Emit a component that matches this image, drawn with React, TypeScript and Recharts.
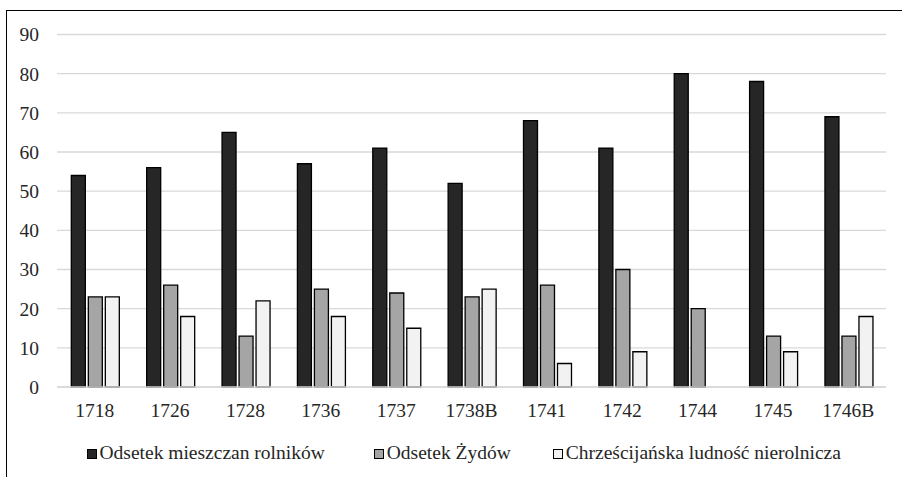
import { Bar, BarChart, CartesianGrid, Legend, XAxis, YAxis } from 'recharts';

const YEARS = ['1718', '1726', '1728', '1736', '1737', '1738B', '1741', '1742', '1744', '1745', '1746B'];
const ROLNICY = [54, 56, 65, 57, 61, 52, 68, 61, 80, 78, 69];
const ZYDZI = [23, 26, 13, 25, 24, 23, 26, 30, 20, 13, 13];
const NIEROLNICZA: (number | null)[] = [23, 18, 22, 18, 15, 25, 6, 9, null, 9, 18];
const Y_TICKS = [0, 10, 20, 30, 40, 50, 60, 70, 80, 90];

const SERIES = [
  { key: 'rolnicy', label: 'Odsetek mieszczan rolników', color: '#262626' },
  { key: 'zydzi', label: 'Odsetek Żydów', color: '#a5a5a5' },
  { key: 'nierolnicza', label: 'Chrześcijańska ludność nierolnicza', color: '#f2f2f2' },
];

const data = YEARS.map((year, i) => ({
  year,
  rolnicy: ROLNICY[i],
  zydzi: ZYDZI[i],
  nierolnicza: NIEROLNICZA[i],
}));

const FONT = 'Liberation Serif';
const LEGEND_GAPS = [49, 42, 0];

function LegendContent() {
  return (
    <div style={{ height: 50, display: 'flex', alignItems: 'center', paddingLeft: 86.5, paddingTop: 2, boxSizing: 'border-box' }}>
      {SERIES.map((s, i) => (
        <div key={s.key} style={{ display: 'flex', alignItems: 'center', marginRight: LEGEND_GAPS[i], fontFamily: FONT, fontSize: 19.5, color: '#262626', whiteSpace: 'nowrap' }}>
          <span style={{ width: 8, height: 8, background: s.color, border: '1.5px solid #000', marginRight: 3, marginTop: 2 }} />
          {s.label}
        </div>
      ))}
    </div>
  );
}

export default function App() {
  return (
    <div style={{ position: 'absolute', left: 0, top: 0, width: 902, height: 477, overflow: 'hidden', background: '#fff', fontFamily: FONT }}>
      <div style={{ position: 'absolute', left: 6, top: 10, width: 920, height: 500, borderLeft: '1.5px solid #000', borderTop: '1.5px solid #000' }} />
      <div style={{ position: 'absolute', left: 0, top: 0 }}>
        <BarChart
          width={902}
          height={477}
          data={data}
          margin={{ top: 34.5, right: 16, left: 0, bottom: 0 }}
          barCategoryGap="19%"
          barGap={3}
        >
          <CartesianGrid vertical={false} stroke="#d9d9d9" strokeWidth={1.3} />
          <XAxis
            dataKey="year"
            height={40}
            tickLine={false}
            axisLine={{ stroke: '#d9d9d9', strokeWidth: 1.3 }}
            tickSize={0}
            tickMargin={16}
            tick={{ fontFamily: FONT, fontSize: 19.5, fill: '#262626' }}
          />
          <YAxis
            width={57}
            domain={[0, 90]}
            ticks={Y_TICKS}
            axisLine={false}
            tickLine={false}
            tickSize={0}
            tickMargin={18}
            tick={{ fontFamily: FONT, fontSize: 19.5, fill: '#262626' }}
          />
          <Legend verticalAlign="bottom" content={<LegendContent />} />
          {SERIES.map(s => (
            <Bar
              key={s.key}
              dataKey={s.key}
              name={s.label}
              fill={s.color}
              stroke="#000"
              strokeWidth={1.3}
              isAnimationActive={false}
            />
          ))}
        </BarChart>
      </div>
    </div>
  );
}
